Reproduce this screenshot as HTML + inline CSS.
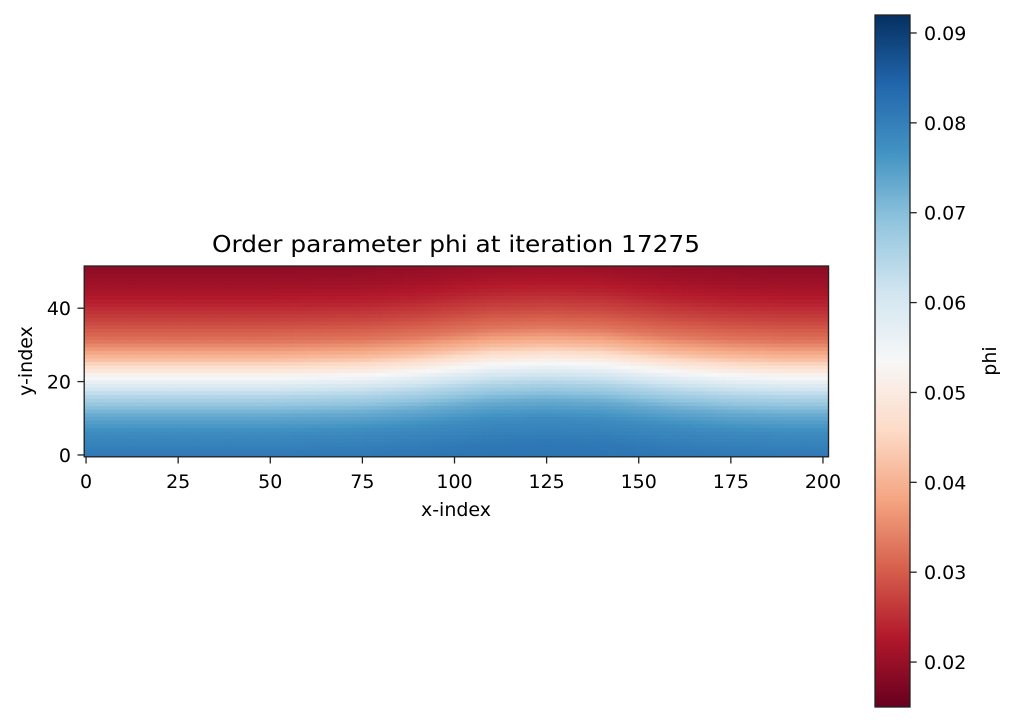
<!DOCTYPE html>
<html><head><meta charset="utf-8"><style>
body{margin:0;background:#fff;}
text{font-family:"DejaVu Sans","Liberation Sans",sans-serif;fill:#000;}
</style></head><body>
<svg id="chart" width="1013" height="723" viewBox="0 0 1013 723" xmlns="http://www.w3.org/2000/svg">
<defs>
<linearGradient id="rdbu" x1="0" y1="1" x2="0" y2="0">
<stop offset="0" stop-color="#67001f"/><stop offset="0.1" stop-color="#b2182b"/><stop offset="0.2" stop-color="#d6604d"/><stop offset="0.3" stop-color="#f4a582"/><stop offset="0.4" stop-color="#fddbc7"/><stop offset="0.5" stop-color="#f7f7f7"/><stop offset="0.6" stop-color="#d1e5f0"/><stop offset="0.7" stop-color="#92c5de"/><stop offset="0.8" stop-color="#4393c3"/><stop offset="0.9" stop-color="#2166ac"/><stop offset="1" stop-color="#053061"/>
</linearGradient>
</defs>
<text x="456" y="252" font-size="23" text-anchor="middle" textLength="488" lengthAdjust="spacingAndGlyphs">Order parameter phi at iteration 17275</text>
<g id="cells"></g>
<rect x="84.2" y="266" width="744.3" height="190.8" fill="none" stroke="#222" stroke-width="1.3"/>
<g id="xticks"></g>
<g id="yticks"></g>
<text x="456" y="516" font-size="19" text-anchor="middle">x-index</text>
<text transform="translate(32,361) rotate(-90)" font-size="19" text-anchor="middle">y-index</text>
<rect x="875" y="15" width="35" height="692" fill="url(#rdbu)" stroke="#222" stroke-width="1.3"/>
<g id="cticks"></g>
<text transform="translate(996,361) rotate(-90)" font-size="19" text-anchor="middle">phi</text>
</svg>
<script>
const nCols = 202, nRows = 52;
const interfaceX = [0, 25, 50, 75, 90, 100, 110, 125, 140, 150, 160, 175, 190, 201];
const interfaceY = [21, 21, 21, 21.5, 22.5, 23.5, 24.5, 25, 24.5, 23.5, 22.5, 21.5, 21, 21];
const profileOffset = [-26, -21, -15, -10, -5, -2, 0, 3, 5, 10, 15, 20, 25, 30];
const profileValue = [0.082, 0.081, 0.078, 0.073, 0.065, 0.059, 0.054, 0.047, 0.042, 0.033, 0.028, 0.024, 0.021, 0.019];
const xTicks = [0, 25, 50, 75, 100, 125, 150, 175, 200];
const yTicks = [0, 20, 40];
const cTicks = [0.02, 0.03, 0.04, 0.05, 0.06, 0.07, 0.08, 0.09];
const vmin = 0.015, vmax = 0.092;

const ns = "http://www.w3.org/2000/svg";
const X0 = 84.2, X1 = 828.5, Y0 = 456.8, Y1 = 266;
const sx = v => X0 + (v + 0.5) / nCols * (X1 - X0);
const sy = v => Y0 - (v + 0.5) / nRows * (Y0 - Y1);
const sc = v => 707 - (v - vmin) / (vmax - vmin) * 692;
function interp(xs, ys, x) {
  if (x <= xs[0]) return ys[0];
  for (let i = 1; i < xs.length; i++) if (x <= xs[i]) { const t = (x - xs[i-1]) / (xs[i] - xs[i-1]); return ys[i-1] + t * (ys[i] - ys[i-1]); }
  return ys[ys.length - 1];
}
const stops = [[0,[103,0,31]],[0.1,[178,24,43]],[0.2,[214,96,77]],[0.3,[244,165,130]],[0.4,[253,219,199]],[0.5,[247,247,247]],[0.6,[209,229,240]],[0.7,[146,197,222]],[0.8,[67,147,195]],[0.9,[33,102,172]],[1,[5,48,97]]];
function cmap(v) {
  let t = Math.max(0, Math.min(1, (v - vmin) / (vmax - vmin)));
  for (let i = 1; i < stops.length; i++) if (t <= stops[i][0]) { const f = (t - stops[i-1][0]) / (stops[i][0] - stops[i-1][0]); const a = stops[i-1][1], b = stops[i][1]; return `rgb(${Math.round(a[0]+f*(b[0]-a[0]))},${Math.round(a[1]+f*(b[1]-a[1]))},${Math.round(a[2]+f*(b[2]-a[2]))})`; }
  return "rgb(5,48,97)";
}
const cells = document.getElementById("cells");
const cw = (X1 - X0) / nCols, ch = (Y0 - Y1) / nRows;
for (let i = 0; i < nCols; i++) {
  const yi = interp(interfaceX, interfaceY, i);
  for (let j = 0; j < nRows; j++) {
    const v = interp(profileOffset, profileValue, j - yi);
    const r = document.createElementNS(ns, "rect");
    r.setAttribute("x", sx(i) - cw / 2); r.setAttribute("y", sy(j) - ch / 2);
    r.setAttribute("width", cw + 0.6); r.setAttribute("height", ch + 0.6);
    r.setAttribute("fill", cmap(v));
    
    
    cells.appendChild(r);
  }
}
function tick(g, x1, y1, x2, y2, tx, ty, label, anchor) {
  const l = document.createElementNS(ns, "line");
  l.setAttribute("x1", x1); l.setAttribute("y1", y1); l.setAttribute("x2", x2); l.setAttribute("y2", y2); l.setAttribute("stroke", "#222"); l.setAttribute("stroke-width", "1.3");
  
  
  g.appendChild(l);
  const t = document.createElementNS(ns, "text");
  t.setAttribute("x", tx); t.setAttribute("y", ty); t.setAttribute("font-size", "19"); t.setAttribute("text-anchor", anchor);
  t.textContent = label;
  
  
  g.appendChild(t);
}
const gx = document.getElementById("xticks");
xTicks.forEach(v => tick(gx, sx(v), 456.8, sx(v), 463.5, sx(v), 488, String(v), "middle"));
const gy = document.getElementById("yticks");
yTicks.forEach(v => tick(gy, 84.2, sy(v), 77.5, sy(v), 71, sy(v) + 7, String(v), "end"));
const gc = document.getElementById("cticks");
cTicks.forEach(v => tick(gc, 910, sc(v), 916.7, sc(v), 924, sc(v) + 7, v.toFixed(2), "start"));
</script>
</body></html>
